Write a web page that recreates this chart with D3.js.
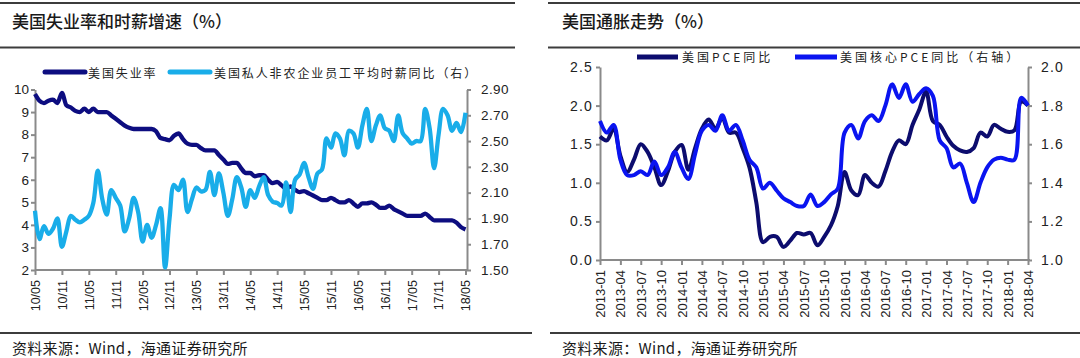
<!DOCTYPE html>
<html><head><meta charset="utf-8">
<script src="https://cdn.jsdelivr.net/npm/d3@7"></script>
<style>
body{margin:0;background:#fff;}
svg{display:block;}
</style></head><body>
<svg id="c" width="1080" height="358"></svg>
<script>
// ---------------- Left chart data (monthly 2010-05 .. 2018-05) ----------------
const leftTickLabels = ["10/05","10/11","11/05","11/11","12/05","12/11","13/05","13/11","14/05","14/11","15/05","15/11","16/05","16/11","17/05","17/11","18/05"];
const leftYTicks = [2,3,4,5,6,7,8,9,10];
const rightYTicksL = [1.50,1.70,1.90,2.10,2.30,2.50,2.70,2.90];
const unemployment = [
 9.8,9.5,9.4,9.5,9.55,9.4,9.85,9.3,9.2,9.05,9.0,9.15,
 9.0,9.15,9.0,9.0,9.0,8.85,8.7,8.55,8.4,8.3,8.25,8.25,
 8.25,8.25,8.25,8.15,7.85,7.8,7.75,7.95,8.05,7.8,7.6,7.55,
 7.55,7.4,7.3,7.3,7.3,7.1,6.9,6.7,6.75,6.75,6.5,6.3,
 6.3,6.15,6.2,6.2,6.0,5.85,5.9,5.75,5.6,5.7,5.55,5.45,
 5.5,5.4,5.3,5.2,5.1,5.1,5.2,5.1,5.0,5.0,5.1,4.95,
 4.8,4.95,4.95,5.0,4.9,4.75,4.75,4.85,4.7,4.6,4.5,4.4,
 4.4,4.4,4.4,4.5,4.35,4.2,4.2,4.2,4.2,4.2,4.1,3.9,3.8];
const wageGrowth = [
 1.96,1.74,1.84,1.78,1.82,1.90,1.68,1.80,1.92,1.89,1.87,1.89,
 1.92,2.02,2.27,2.05,1.93,2.12,2.06,2.00,1.80,1.90,2.06,1.95,
 1.72,1.85,1.75,1.85,1.98,1.52,1.90,2.16,2.12,2.20,1.95,2.05,
 2.14,2.11,2.12,2.26,2.08,2.25,2.10,1.92,2.05,2.22,2.14,1.99,
 2.12,2.06,2.15,2.22,2.08,2.03,2.02,2.00,2.18,1.95,2.20,2.24,
 2.33,2.22,2.13,2.25,2.28,2.52,2.45,2.56,2.52,2.39,2.58,2.56,
 2.45,2.62,2.75,2.50,2.62,2.70,2.60,2.58,2.50,2.70,2.56,2.52,
 2.48,2.50,2.50,2.75,2.60,2.29,2.55,2.75,2.70,2.58,2.64,2.57,2.72];

// ---------------- Right chart data (monthly 2013-01 .. 2018-04) ----------------
const rightTickLabels = ["2013-01","2013-04","2013-07","2013-10","2014-01","2014-04","2014-07","2014-10","2015-01","2015-04","2015-07","2015-10","2016-01","2016-04","2016-07","2016-10","2017-01","2017-04","2017-07","2017-10","2018-01","2018-04"];
const pceTicks = [0,0.5,1.0,1.5,2.0,2.5];
const coreTicks = [1.0,1.2,1.4,1.6,1.8,2.0];
const pce = [
 1.60,1.55,1.70,1.35,1.14,1.30,1.50,1.40,1.20,0.97,1.15,1.40,
 1.49,1.17,1.45,1.70,1.82,1.70,1.84,1.65,1.65,1.45,1.20,0.75,
 0.23,0.30,0.30,0.17,0.25,0.35,0.33,0.35,0.19,0.30,0.45,0.70,
 1.14,0.90,0.84,1.10,1.00,0.95,1.15,1.40,1.55,1.50,1.75,1.95,
 2.18,1.80,1.75,1.60,1.48,1.42,1.40,1.45,1.65,1.60,1.75,1.70,
 1.66,1.68,2.05,2.00];
const corePce = [
 1.72,1.66,1.70,1.52,1.44,1.44,1.46,1.44,1.51,1.44,1.48,1.56,
 1.48,1.42,1.55,1.67,1.70,1.67,1.75,1.67,1.70,1.62,1.52,1.48,
 1.37,1.40,1.36,1.32,1.30,1.28,1.28,1.34,1.28,1.30,1.34,1.37,
 1.66,1.70,1.63,1.72,1.75,1.72,1.80,1.91,1.84,1.91,1.82,1.86,
 1.89,1.85,1.62,1.58,1.48,1.50,1.40,1.30,1.40,1.48,1.52,1.53,
 1.52,1.52,1.84,1.80];

const titles = ["美国失业率和时薪增速（%）","美国通胀走势（%）"];
const leftLegend = ["美国失业率","美国私人非农企业员工平均时薪同比（右）"];
const rightLegend = ["美国PCE同比","美国核心PCE同比（右轴）"];
const sourceText = "资料来源：Wind，海通证券研究所";

// ---------------- drawing ----------------
const svg = d3.select("#c");
const CJK = "'Noto Sans CJK SC','Noto Sans',sans-serif";
const NUM = "'Liberation Sans',Arial,sans-serif";
const AX = "#8a8a8a";

function rule(x1,x2,y){
  svg.append("line").attr("x1",x1).attr("x2",x2).attr("y1",y).attr("y2",y)
    .attr("stroke","#3c3c3c").attr("stroke-width",2);
}
// Frames
rule(0,515,3); rule(0,515,47.5); rule(0,532,333);
rule(548,1080,3); rule(548,1080,47.5); rule(550,1080,333);

svg.append("text").attr("x",12).attr("y",20).attr("dominant-baseline","central")
  .attr("font-family",CJK).attr("font-size",17).attr("font-weight",500).attr("fill","#1a1a1a").text(titles[0]);
svg.append("text").attr("x",562).attr("y",20).attr("dominant-baseline","central")
  .attr("font-family",CJK).attr("font-size",17).attr("font-weight",500).attr("fill","#1a1a1a").text(titles[1]);
svg.append("text").attr("x",12).attr("y",347).attr("dominant-baseline","central")
  .attr("font-family",CJK).attr("font-size",15).attr("letter-spacing",0.3).attr("fill","#1a1a1a").text(sourceText);
svg.append("text").attr("x",562).attr("y",347).attr("dominant-baseline","central")
  .attr("font-family",CJK).attr("font-size",15).attr("letter-spacing",0.3).attr("fill","#1a1a1a").text(sourceText);

function styleAxis(g, fs, ls){
  g.select(".domain").attr("stroke",AX).attr("stroke-width",2);
  g.selectAll(".tick line").attr("stroke",AX).attr("stroke-width",2);
  g.selectAll(".tick text").attr("fill","#222").attr("font-family",NUM)
    .attr("font-size",fs).attr("letter-spacing",ls||0);
}

// ---------- Left chart ----------
{
  const x = d3.scaleLinear().domain([0, unemployment.length-1]).range([35, 465.5]);
  const yL = d3.scaleLinear().domain([2,10]).range([270, 89.5]);
  const yR = d3.scaleLinear().domain([1.5,2.9]).range([270, 89.5]);
  const tickIdx = leftTickLabels.map((d,i)=>i*6);

  const gx = svg.append("g").attr("transform","translate(0,270)")
    .call(d3.axisBottom(x).tickValues(tickIdx).tickFormat((d,i)=>leftTickLabels[i]).tickSize(5).tickSizeOuter(0));
  gx.select(".domain").attr("d","M35,0H467");
  styleAxis(gx, 12.5);
  gx.selectAll(".tick text").attr("transform","rotate(-90)").attr("text-anchor","end")
    .attr("x",-10).attr("y",0).attr("dy","0.35em");

  const gl = svg.append("g").attr("transform","translate(35,0)")
    .call(d3.axisLeft(yL).tickValues(leftYTicks).tickFormat(d3.format("d")).tickSize(4).tickSizeOuter(0));
  styleAxis(gl, 13.5);
  gl.selectAll(".tick text").attr("x",-6);

  const gr = svg.append("g").attr("transform","translate(467,0)")
    .call(d3.axisRight(yR).tickValues(rightYTicksL).tickFormat(d3.format(".2f")).tickSize(4).tickSizeOuter(0));
  styleAxis(gr, 13.5, 0.4);
  gr.selectAll(".tick text").attr("x",14);

  const lineU = d3.line().x((d,i)=>x(i)).y(d=>yL(d)).curve(d3.curveMonotoneX);
  const lineW = d3.line().x((d,i)=>x(i)).y(d=>yR(d)).curve(d3.curveCatmullRom.alpha(0.5));
  svg.append("path").datum(unemployment).attr("d",lineU).attr("fill","none")
    .attr("stroke","#0d0d80").attr("stroke-width",4.3).attr("stroke-linejoin","round");
  svg.append("path").datum(wageGrowth).attr("d",lineW).attr("fill","none")
    .attr("stroke","#19ade9").attr("stroke-width",4.3).attr("stroke-linejoin","round");

  // legend
  const lg = [[45,85,88,"#0d0d80"],[170,210,214,"#19ade9"]];
  lg.forEach((l,i)=>{
    svg.append("line").attr("x1",l[0]).attr("x2",l[1]).attr("y1",72).attr("y2",72)
      .attr("stroke",l[3]).attr("stroke-width",5).attr("stroke-linecap","round");
    svg.append("text").attr("x",l[2]).attr("y",72).attr("dominant-baseline","central")
      .attr("font-family",CJK).attr("font-size",12).attr("letter-spacing",1.9)
      .attr("fill","#222").text(leftLegend[i]);
  });
}

// ---------- Right chart ----------
{
  const x = d3.scaleLinear().domain([0, pce.length-1]).range([600, 1028]);
  const yL = d3.scaleLinear().domain([0,2.5]).range([260, 67]);
  const yR = d3.scaleLinear().domain([1.0,2.0]).range([260, 67]);
  const tickIdx = rightTickLabels.map((d,i)=>i*3);

  const gx = svg.append("g").attr("transform","translate(0,260)")
    .call(d3.axisBottom(x).tickValues(tickIdx).tickFormat((d,i)=>rightTickLabels[i]).tickSize(5).tickSizeOuter(0));
  gx.select(".domain").attr("d","M600,0H1030");
  styleAxis(gx, 13);
  gx.selectAll(".tick text").attr("transform","rotate(-90)").attr("text-anchor","end")
    .attr("x",-10).attr("y",0).attr("dy","0.35em");

  const gl = svg.append("g").attr("transform","translate(600,0)")
    .call(d3.axisLeft(yL).tickValues(pceTicks).tickFormat(d3.format(".1f")).tickSize(4).tickSizeOuter(0));
  styleAxis(gl, 14, 1.2);
  gl.selectAll(".tick text").attr("x",-7);

  const gr = svg.append("g").attr("transform","translate(1028,0)")
    .call(d3.axisRight(yR).tickValues(coreTicks).tickFormat(d3.format(".1f")).tickSize(4).tickSizeOuter(0));
  styleAxis(gr, 14, 1.2);
  gr.selectAll(".tick text").attr("x",13);

  const lineP = d3.line().x((d,i)=>x(i)).y(d=>yL(d)).curve(d3.curveCatmullRom.alpha(0.5));
  const lineC = d3.line().x((d,i)=>x(i)).y(d=>yR(d)).curve(d3.curveCatmullRom.alpha(0.5));
  svg.append("path").datum(pce).attr("d",lineP).attr("fill","none")
    .attr("stroke","#0c0c6e").attr("stroke-width",4).attr("stroke-linejoin","round");
  svg.append("path").datum(corePce).attr("d",lineC).attr("fill","none")
    .attr("stroke","#0a14f0").attr("stroke-width",4).attr("stroke-linejoin","round");

  const lg = [[637,678,682,"#0c0c6e"],[795,837,840,"#0a14f0"]];
  lg.forEach((l,i)=>{
    svg.append("line").attr("x1",l[0]).attr("x2",l[1]).attr("y1",57).attr("y2",57)
      .attr("stroke",l[3]).attr("stroke-width",5);
    svg.append("text").attr("x",l[2]).attr("y",56).attr("dominant-baseline","central")
      .attr("font-family",CJK).attr("font-size",12).attr("letter-spacing",3)
      .attr("fill","#222").text(rightLegend[i]);
  });
}
</script>
</body></html>
